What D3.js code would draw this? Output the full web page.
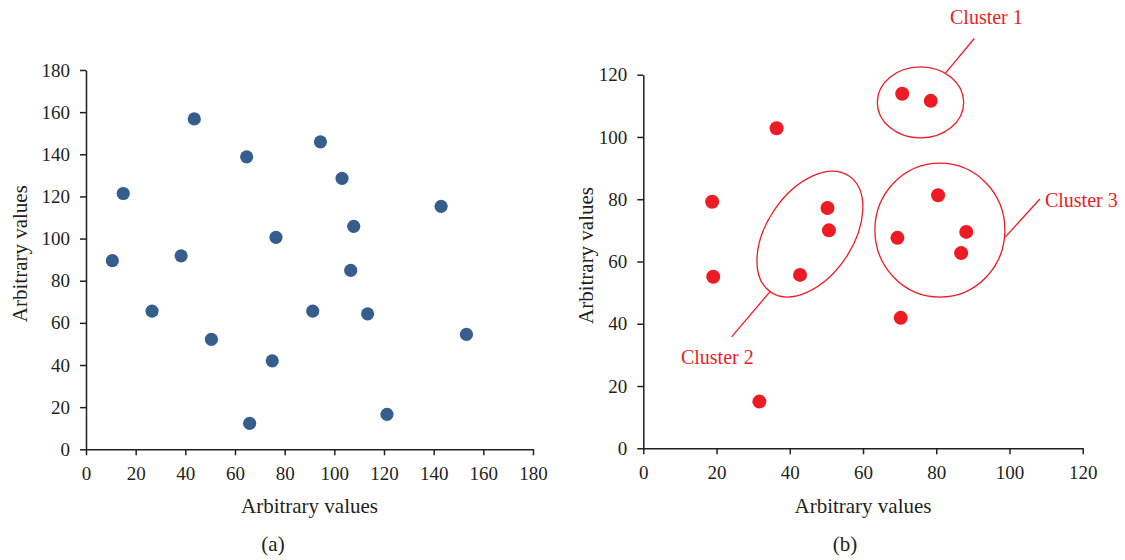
<!DOCTYPE html>
<html>
<head>
<meta charset="utf-8">
<script src="https://cdn.jsdelivr.net/npm/d3@7"></script>
<style>
  html, body { margin: 0; padding: 0; background: #fff; }
  svg text { font-family: "Liberation Serif", "Times New Roman", serif; fill: #231f20; }
</style>
</head>
<body>
<svg id="chart" width="1125" height="560"></svg>
<script>
// ---- Data ----
const xTicksA = [0, 20, 40, 60, 80, 100, 120, 140, 160, 180];
const yTicksA = [0, 20, 40, 60, 80, 100, 120, 140, 160, 180];
const xTicksB = [0, 20, 40, 60, 80, 100, 120];
const yTicksB = [0, 20, 40, 60, 80, 100, 120];

const pointsAX = [10.6, 15.0, 26.6, 38.3, 43.6, 50.5, 64.7, 65.9, 75.0, 76.5, 91.3, 94.4, 103.1, 106.6, 107.8, 113.4, 121.2, 143.0, 153.2];
const pointsAY = [89.5, 121.4, 65.6, 91.8, 156.8, 52.2, 138.8, 12.3, 42.0, 100.6, 65.6, 145.9, 128.6, 84.9, 105.8, 64.3, 16.6, 115.3, 54.5];

const pointsBX = [18.8, 19.1, 31.7, 36.4, 42.8, 50.3, 50.7, 69.4, 70.3, 70.7, 78.5, 80.5, 86.8, 88.2];
const pointsBY = [79.2, 55.1, 15.0, 102.8, 55.7, 77.2, 70.0, 67.6, 41.9, 113.9, 111.6, 81.3, 62.7, 69.5];

const clusterNames = ["Cluster 1", "Cluster 2", "Cluster 3"];
const clusterCX = [75.7, 45.5, 81.0];
const clusterCY = [111.1, 68.8, 70.1];

const axisTitle = "Arbitrary values";
const panelLabels = ["(a)", "(b)"];

// ---- Layout / style ----
const ink = "#231f20";
const blue = "#365e8d";
const red = "#ed1c24";
const tickFont = 19;
const titleFont = 21;

// annotation geometry (pixels, relative to cluster centre)
const clusterShape = [
  { rx: 43.2, ry: 35.5, rot: 0,   l0: [25.2, -29.5], l1: [53.8, -63.9], t: [29.5, -78.2] },
  { rx: 70,   ry: 43,   rot: -56, l0: [-40, 57.7],   l1: [-78.3, 102.7], t: [-129, 130] },
  { rx: 65,   ry: 67,   rot: 0,   l0: [65, 7.3],     l1: [100, -31],     t: [105, -23] }
];

const svg = d3.select("#chart");

function panel(cfg) {
  const x = d3.scaleLinear().domain(cfg.xDomain).range(cfg.xRange);
  const y = d3.scaleLinear().domain(cfg.yDomain).range(cfg.yRange);
  const g = svg.append("g");

  const xAxis = d3.axisBottom(x).tickValues(cfg.xTicks).tickSizeInner(6).tickSizeOuter(0).tickPadding(11).tickFormat(d3.format("d"));
  const yAxis = d3.axisLeft(y).tickValues(cfg.yTicks).tickSizeInner(6).tickSizeOuter(0).tickPadding(10).tickFormat(d3.format("d"));

  const gx = g.append("g").attr("transform", `translate(0,${cfg.yRange[0]})`).call(xAxis);
  const gy = g.append("g").attr("transform", `translate(${cfg.xRange[0]},0)`).call(yAxis);
  [gx, gy].forEach(a => {
    a.selectAll("path, line").attr("stroke", ink).attr("stroke-width", 1.5);
    a.selectAll("text").attr("font-size", tickFont).attr("font-family", "Liberation Serif, serif").attr("fill", ink);
  });

  g.selectAll("circle.pt").data(cfg.px.map((v, i) => [v, cfg.py[i]])).enter()
    .append("circle").attr("class", "pt")
    .attr("cx", d => x(d[0])).attr("cy", d => y(d[1]))
    .attr("r", cfg.r).attr("fill", cfg.color);

  const xm = (cfg.xRange[0] + cfg.xRange[1]) / 2;
  g.append("text").attr("x", xm).attr("y", 513).attr("text-anchor", "middle")
    .attr("font-size", titleFont).text(axisTitle);
  g.append("text").attr("x", cfg.panelX).attr("y", 551).attr("text-anchor", "middle")
    .attr("font-size", titleFont).text(cfg.panel);
  const ym = (cfg.yRange[0] + cfg.yRange[1]) / 2 - 6;
  g.append("text").attr("transform", `translate(${cfg.yTitleX},${ym}) rotate(-90)`)
    .attr("text-anchor", "middle").attr("font-size", titleFont).text(axisTitle);
  return { x, y, g };
}

panel({
  xDomain: [0, 180], yDomain: [0, 180], xRange: [86, 533], yRange: [449.3, 70],
  xTicks: xTicksA, yTicks: yTicksA, px: pointsAX, py: pointsAY, r: 6.6, color: blue,
  panel: panelLabels[0], panelX: 273, yTitleX: 27
});

const B = panel({
  xDomain: [0, 120], yDomain: [0, 120], xRange: [643.3, 1082.7], yRange: [448.3, 74.7],
  xTicks: xTicksB, yTicks: yTicksB, px: pointsBX, py: pointsBY, r: 7, color: red,
  panel: panelLabels[1], panelX: 845, yTitleX: 593
});

clusterNames.forEach((name, i) => {
  const s = clusterShape[i];
  const cx = B.x(clusterCX[i]), cy = B.y(clusterCY[i]);
  B.g.append("ellipse")
    .attr("transform", `translate(${cx},${cy}) rotate(${s.rot})`)
    .attr("rx", s.rx).attr("ry", s.ry)
    .attr("fill", "none").attr("stroke", red).attr("stroke-width", 1.3);
  B.g.append("line")
    .attr("x1", cx + s.l0[0]).attr("y1", cy + s.l0[1])
    .attr("x2", cx + s.l1[0]).attr("y2", cy + s.l1[1])
    .attr("stroke", red).attr("stroke-width", 1.3);
  B.g.append("text").attr("x", cx + s.t[0]).attr("y", cy + s.t[1])
    .attr("font-size", 20).style("fill", red).text(name);
});
</script>
</body>
</html>
